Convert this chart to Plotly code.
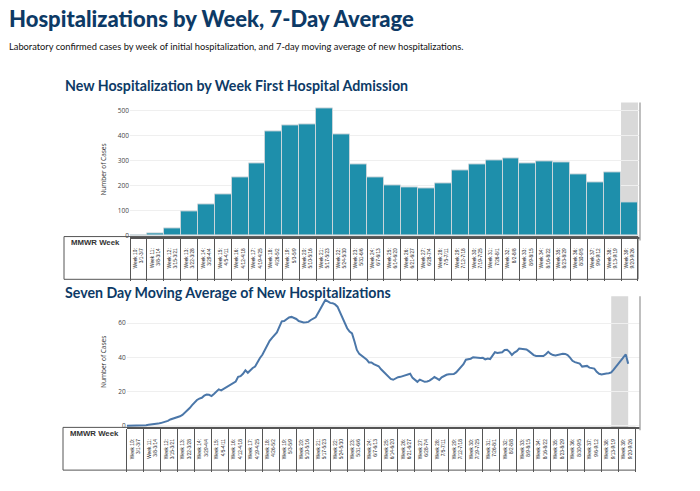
import plotly.graph_objects as go
import pandas as pd

# page body has an 8px margin, so the figure is drawn 8px in from the window edge
OFF = 8
W, H = 692, 483

week_labels = [
    "Week 10:<br>3/1-3/7", "Week 11:<br>3/8-3/14", "Week 12:<br>3/15-3/21", "Week 13:<br>3/22-3/28",
    "Week 14:<br>3/29-4/4", "Week 15:<br>4/5-4/11", "Week 16:<br>4/12-4/18", "Week 17:<br>4/19-4/25",
    "Week 18:<br>4/26-5/2", "Week 19:<br>5/3-5/9", "Week 20:<br>5/10-5/16", "Week 21:<br>5/17-5/23",
    "Week 22:<br>5/24-5/30", "Week 23:<br>5/31-6/6", "Week 24:<br>6/7-6/13", "Week 25:<br>6/14-6/20",
    "Week 26:<br>6/21-6/27", "Week 27:<br>6/28-7/4", "Week 28:<br>7/5-7/11", "Week 29:<br>7/12-7/18",
    "Week 30:<br>7/19-7/25", "Week 31:<br>7/26-8/1", "Week 32:<br>8/2-8/8", "Week 33:<br>8/9-8/15",
    "Week 34:<br>8/16-8/22", "Week 35:<br>8/23-8/29", "Week 36:<br>8/30-9/5", "Week 37:<br>9/6-9/12",
    "Week 38:<br>9/13-9/19", "Week 39:<br>9/20-9/26",
]

weekly_cases = [0, 7, 29, 96, 123, 163, 231, 288, 416, 441, 445, 507, 404, 284, 232,
                201, 192, 188, 208, 260, 283, 300, 307, 287, 296, 292, 243, 211, 253, 132]

avg_start = "2020-03-01"
avg_values = [
    0.1, 0.1, 0.1, 0.1, 0.3, 0.3, 0.3, 0.4, 0.4, 0.6, 0.7, 0.9,
    1.0, 1.3, 1.6, 1.9, 2.2, 2.9, 3.7, 4.1, 4.4,
    5.0, 5.6, 6.4, 7.6, 9.0, 10.4, 12.1, 13.6, 15.1, 15.9,
    16.4, 17.6, 18.3, 18.1, 17.4, 18.6, 20.0, 21.3, 20.7, 21.6,
    22.3, 23.1, 24.0, 25.1, 25.9, 28.6, 29.0, 30.4, 32.4, 31.0,
    32.6, 33.8, 34.6, 37.3, 39.6, 41.5, 44.3, 47.1, 49.6, 51.4,
    53.0, 54.6, 57.8, 61.0, 61.2, 62.2, 63.3, 63.6, 63.2, 62.4,
    61.2, 60.7, 60.4, 60.5, 60.7, 61.8, 62.6, 63.4, 65.9, 68.8,
    71.0, 73.6, 72.6, 71.8, 71.6, 70.9, 69.6, 66.2, 63.3, 60.2,
    57.0, 55.0, 54.0, 49.4, 44.3, 42.0, 41.0, 40.2, 38.8, 37.0,
    37.0, 36.0, 35.6, 34.8, 33.0, 31.6, 30.0, 28.8, 27.4, 26.9,
    27.6, 28.4, 28.6, 29.0, 29.4, 29.8, 30.4, 28.0, 26.6, 25.7,
    27.0, 26.4, 25.7, 25.9, 26.4, 27.4, 28.5, 27.7, 26.8, 28.3,
    29.1, 29.8, 30.1, 30.1, 30.2, 31.2, 32.7, 34.5, 36.0, 38.6,
    38.8, 39.2, 40.1, 39.8, 39.7, 39.6, 39.7, 38.8, 39.3, 39.0,
    41.0, 43.0, 42.6, 42.6, 43.0, 44.3, 44.4, 43.2, 41.4, 42.8,
    43.6, 45.1, 44.9, 44.6, 44.6, 43.6, 42.4, 41.3, 40.8, 40.7,
    40.8, 40.8, 41.8, 43.2, 42.0, 41.3, 41.1, 41.5, 41.9, 42.1,
    42.0, 41.3, 39.8, 38.0, 37.2, 36.9, 36.3, 34.6, 34.8, 35.0,
    34.0, 33.7, 33.4, 31.5, 30.4, 30.0, 30.5, 30.6, 30.7, 31.2,
    32.8, 34.6, 36.5, 38.8, 40.5, 41.7, 36.3,
]
avg_dates = pd.date_range(avg_start, periods=len(avg_values), freq="D")

NAVY = "#0d3a66"
BAR = "#1e8fab"
LINE = "#4b77a9"
GRID = "#efefef"
SHADE = "#d9d9d9"
TABLE = "#555555"


def px(x):
    return (x - OFF) / W


def py(y):
    return 1 - (y - OFF) / H


fig = go.Figure()

fig.add_trace(go.Bar(
    x=week_labels, y=weekly_cases, xaxis="x", yaxis="y",
    marker=dict(color=BAR, line=dict(color="#c9d5da", width=1)),
    showlegend=False, hoverinfo="x+y",
))

fig.add_trace(go.Scatter(
    x=avg_dates, y=avg_values, xaxis="x2", yaxis="y2", mode="lines",
    line=dict(color=LINE, width=2), showlegend=False,
))

fig.add_trace(go.Scatter(
    x=week_labels, y=[None] * len(week_labels), xaxis="x3", yaxis="y2",
    mode="markers", showlegend=False, hoverinfo="skip",
))

tickfont_table = dict(family="Liberation Sans, Arial, sans-serif", size=4.8, color="#222")
ytickfont = dict(family="Open Sans, sans-serif", size=6.5, color="#444")
ytitlefont = dict(family="Open Sans, sans-serif", size=6.5, color="#333")

table_axis = dict(
    type="category", categoryorder="array", categoryarray=week_labels,
    tickson="boundaries", ticks="outside", ticklen=43, tickcolor=TABLE, tickwidth=1,
    tickangle=-90, tickfont=tickfont_table, ticklabelstandoff=8,
    showgrid=False, zeroline=False, showline=True, linecolor=TABLE, linewidth=1.5,
)

fig.update_layout(
    width=W, height=H,
    margin=dict(l=0, r=0, t=0, b=0),
    paper_bgcolor="white", plot_bgcolor="rgba(0,0,0,0)",
    bargap=0,
    xaxis=dict(domain=[px(130), px(640)], anchor="y", range=[-0.5, 29.62], **table_axis),
    yaxis=dict(domain=[py(238), py(103)], anchor="x", range=[-5, 532],
               tickvals=[0, 100, 200, 300, 400, 500], tickfont=ytickfont,
               showgrid=True, gridcolor=GRID, zeroline=False, showline=False,
               title=dict(text="Number of Cases", font=ytitlefont, standoff=10)),
    xaxis2=dict(domain=[px(126.7), px(640)], anchor="y2", type="date",
                range=["2020-03-01", "2020-09-28 21:00"],
                showticklabels=False, ticks="", showgrid=False, zeroline=False,
                showline=True, linecolor=TABLE, linewidth=1.5),
    xaxis3=dict(domain=[px(126.7), px(640)], anchor="y2", overlaying="x2",
                range=[-0.5, 29.777], **table_axis),
    yaxis2=dict(domain=[py(430), py(298)], anchor="x2", range=[-0.9, 75.7],
                tickvals=[0, 20, 40, 60], tickfont=ytickfont,
                showgrid=True, gridcolor=GRID, zeroline=False, showline=False,
                title=dict(text="Number of Cases", font=ytitlefont, standoff=10)),
)

shapes = [
    # shaded incomplete week (top chart)
    dict(type="rect", xref="x", yref="y domain", x0=len(week_labels) - 1.5, x1=len(week_labels) - 0.5,
         y0=0, y1=1, fillcolor=SHADE, line=dict(width=0), layer="below"),
    # shaded last 7 days (bottom chart)
    dict(type="rect", xref="x2", yref="y2 domain", x0=avg_dates[-8], x1=avg_dates[-1],
         y0=0, y1=1, fillcolor=SHADE, line=dict(width=0), layer="below"),
    # right frame lines
    dict(type="line", xref="paper", yref="paper", x0=px(640), x1=px(640), y0=py(103), y1=py(242),
         line=dict(color="#aaaaaa", width=1.5)),
    dict(type="line", xref="paper", yref="paper", x0=px(640), x1=px(640), y0=py(298), y1=py(433),
         line=dict(color="#aaaaaa", width=1.5)),
    # table frames
    dict(type="rect", xref="paper", yref="paper", x0=px(64), x1=px(638), y0=py(281), y1=py(238),
         line=dict(color=TABLE, width=1)),
    dict(type="rect", xref="paper", yref="paper", x0=px(63), x1=px(635.5), y0=py(473), y1=py(430),
         line=dict(color=TABLE, width=1)),
]
fig.update_layout(shapes=shapes)

annotations = [
    dict(text="Hospitalizations by Week, 7-Day Average", x=px(7), y=py(19), xref="paper", yref="paper",
         xanchor="left", yanchor="middle", showarrow=False,
         font=dict(family="Lato, sans-serif", size=22, color=NAVY, weight=900)),
    dict(text="Laboratory confirmed cases by week of initial hospitalization, and 7-day moving average of new hospitalizations.",
         x=px(7), y=py(47), xref="paper", yref="paper", xanchor="left", yanchor="middle", showarrow=False,
         font=dict(family="Lato, sans-serif", size=9.3, color="#111")),
    dict(text="<b>New Hospitalization by Week First Hospital Admission</b>", x=px(63), y=py(86),
         xref="paper", yref="paper", xanchor="left", yanchor="middle", showarrow=False,
         font=dict(family="Lato, sans-serif", size=14.2, color=NAVY)),
    dict(text="<b>Seven Day Moving Average of New Hospitalizations</b>", x=px(63), y=py(294),
         xref="paper", yref="paper", xanchor="left", yanchor="middle", showarrow=False,
         font=dict(family="Lato, sans-serif", size=14.2, color=NAVY)),
    dict(text="<b>MMWR Week</b>", x=px(69), y=py(244), xref="paper", yref="paper",
         xanchor="left", yanchor="middle", showarrow=False,
         font=dict(family="Liberation Sans, sans-serif", size=7.8, color="#333")),
    dict(text="<b>MMWR Week</b>", x=px(68), y=py(436), xref="paper", yref="paper",
         xanchor="left", yanchor="middle", showarrow=False,
         font=dict(family="Liberation Sans, sans-serif", size=7.8, color="#333")),
]
fig.update_layout(annotations=annotations)

fig.write_html("out.html")
